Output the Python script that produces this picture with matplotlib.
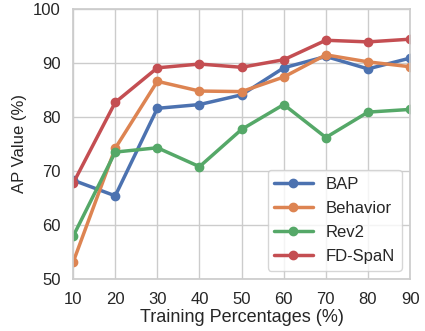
import matplotlib
matplotlib.use("Agg")
import matplotlib.pyplot as plt
import seaborn as sns

sns.set_theme(style="whitegrid")
plt.rcParams['font.family'] = ['Arial', 'Liberation Sans', 'DejaVu Sans']

x = [10, 20, 30, 40, 50, 60, 70, 80, 90]
bap = [68.3, 65.4, 81.6, 82.3, 84.1, 89.1, 91.2, 88.9, 90.9]
behavior = [53.1, 74.2, 86.6, 84.8, 84.7, 87.4, 91.5, 90.2, 89.3]
rev2 = [57.9, 73.5, 74.3, 70.8, 77.7, 82.3, 76.2, 80.9, 81.4]
fdspan = [67.7, 82.7, 89.1, 89.8, 89.2, 90.6, 94.2, 93.9, 94.4]

series = [("BAP", bap), ("Behavior", behavior), ("Rev2", rev2), ("FD-SpaN", fdspan)]
colors = sns.color_palette()

fig = plt.figure(figsize=(4.25, 3.31), dpi=100)
ax = fig.add_axes([0.172, 0.157, 0.793, 0.816])
for (name, vals), c in zip(series, colors):
    ax.plot(x, vals, marker='o', color=c, linewidth=2.5, markersize=6, label=name)

ax.set_xlim(10, 90)
ax.set_ylim(50, 100)
ax.set_xticks(x)
ax.set_yticks([50, 60, 70, 80, 90, 100])
ax.tick_params(labelsize=12, pad=3)
ax.set_xlabel("Training Percentages (%)", fontsize=13, labelpad=2)
ax.set_ylabel("AP Value (%)", fontsize=12, labelpad=4)
ax.legend(loc='lower right', fontsize=12, handlelength=2.3, labelspacing=0.55)
fig.savefig("out.png", dpi=100)
